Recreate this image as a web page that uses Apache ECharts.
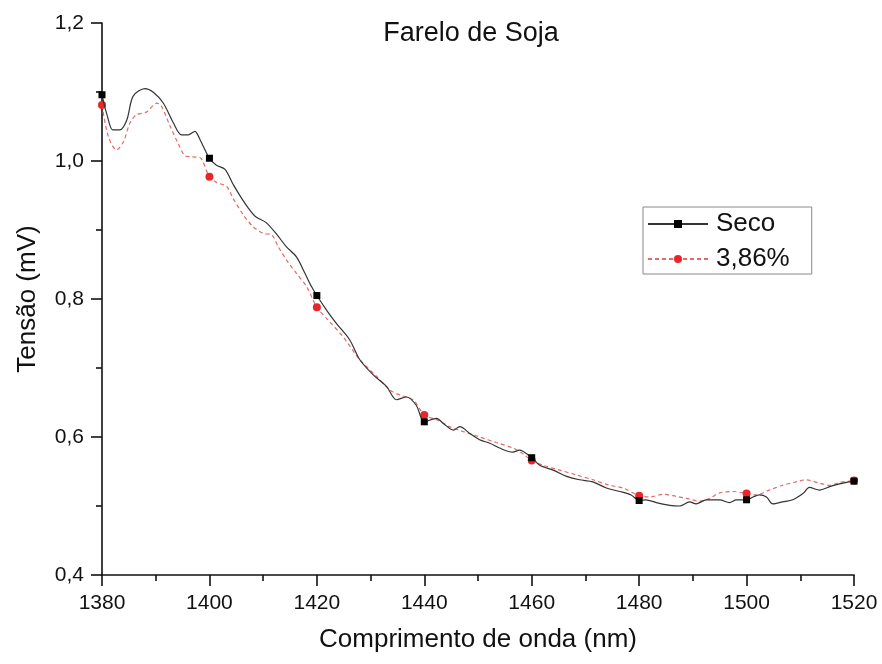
<!DOCTYPE html>
<html><head><meta charset="utf-8">
<script src="https://cdn.jsdelivr.net/npm/echarts@6/dist/echarts.min.js"></script>
<style>html,body{margin:0;padding:0;background:#fff}#c{width:882px;height:664px}</style>
</head><body><div id="c"></div>
<script>
const titleText = 'Farelo de Soja';
const xName = 'Comprimento de onda (nm)';
const yName = 'Tensão (mV)';
const seriesNames = ['Seco', '3,86%'];
const xTicks = [1380, 1400, 1420, 1440, 1460, 1480, 1500, 1520];
const yTicks = [0.4, 0.6, 0.8, 1.0, 1.2];

const secoX = [1380,1381,1382,1383.3,1384.6,1385.8,1388,1389.5,1391.4,1393.3,1394.8,1396.1,1397.3,1398.3,1400,1401.3,1402.9,1404.5,1406.5,1408.5,1410.5,1412.5,1414.3,1416.2,1417.8,1419,1420,1421.8,1423.7,1426.1,1428,1430.5,1433,1434.8,1436.7,1438.5,1440,1442.3,1443.5,1445.4,1446.6,1448.5,1450.3,1452.2,1454,1456.5,1457.7,1460,1461.5,1464,1466.5,1468.9,1471.4,1473.9,1476.4,1478.5,1480,1481.3,1483.2,1485.7,1487.5,1489.4,1490.6,1492.5,1495,1496.8,1498.1,1500,1501.2,1502.4,1503.7,1504.9,1506.7,1508.6,1510.5,1511.7,1513.6,1515.5,1517.3,1520];
const secoY = [1.096,1.065,1.045,1.045,1.059,1.094,1.105,1.100,1.084,1.055,1.038,1.038,1.043,1.030,1.004,0.994,0.988,0.965,0.940,0.920,0.911,0.894,0.876,0.861,0.837,0.818,0.805,0.784,0.764,0.741,0.712,0.690,0.673,0.654,0.658,0.646,0.622,0.627,0.620,0.610,0.615,0.605,0.596,0.591,0.584,0.578,0.581,0.570,0.559,0.552,0.543,0.538,0.535,0.526,0.521,0.516,0.508,0.509,0.505,0.501,0.500,0.506,0.503,0.509,0.509,0.505,0.509,0.509,0.513,0.516,0.513,0.503,0.506,0.509,0.518,0.527,0.523,0.528,0.532,0.536];

const umidX = [1380,1381.2,1382.7,1384,1385.2,1386.4,1388.3,1390.2,1391.1,1392.7,1394.2,1395.4,1396.6,1398.2,1400,1401.3,1403.2,1404.4,1406.3,1408.1,1410,1411.6,1412.8,1414.3,1416.2,1418.1,1420,1421.8,1424.9,1428,1431.1,1433.6,1435.4,1437.9,1440,1442.3,1444.7,1447.2,1450.3,1453.4,1456.5,1458.3,1460,1462.1,1465.2,1468.3,1471.4,1474.5,1477,1480,1482,1484.4,1486.9,1488.8,1491.3,1493.1,1495,1497.5,1500,1501.8,1504.2,1506.7,1509.2,1511.1,1513.6,1515.5,1517.3,1520];
const umidY = [1.081,1.035,1.016,1.028,1.055,1.067,1.071,1.084,1.079,1.050,1.025,1.008,1.006,1.005,0.977,0.969,0.963,0.946,0.922,0.905,0.895,0.893,0.876,0.857,0.837,0.818,0.788,0.772,0.745,0.712,0.688,0.668,0.661,0.654,0.632,0.625,0.615,0.608,0.600,0.592,0.584,0.576,0.566,0.559,0.552,0.545,0.538,0.530,0.526,0.515,0.513,0.517,0.514,0.511,0.507,0.511,0.519,0.521,0.518,0.516,0.523,0.530,0.535,0.538,0.533,0.530,0.534,0.537];

const FONT = 'Arial, "Liberation Sans", sans-serif';
const pairs = (xs, ys) => xs.map((x, i) => [x, ys[i]]);
const markSize = (s) => (v) => (xTicks.indexOf(v[0]) >= 0 ? s : 0);

const chart = echarts.init(document.getElementById('c'), null, {renderer: 'canvas'});
chart.setOption({
  animation: false,
  backgroundColor: '#fff',
  title: {
    text: titleText, left: 466, top: 15, textAlign: 'center',
    textStyle: {fontFamily: FONT, fontSize: 27, fontWeight: 'normal', color: '#111'}
  },
  grid: {left: 102, right: 28, top: 23, bottom: 89, containLabel: false},
  legend: {
    orient: 'vertical', left: 643, top: 207,
    padding: [4, 22, 2, 4], itemGap: 9,
    itemWidth: 60, itemHeight: 10,
    borderColor: '#888', borderWidth: 1,
    textStyle: {fontFamily: FONT, fontSize: 26, color: '#111', lineHeight: 26, padding: [0, 0, 0, 3]},
    data: seriesNames
  },
  xAxis: {
    type: 'value', min: xTicks[0], max: xTicks[xTicks.length - 1], interval: 20,
    name: xName, nameLocation: 'middle', nameGap: 52,
    nameTextStyle: {fontFamily: FONT, fontSize: 26, color: '#111'},
    axisLine: {show: true, lineStyle: {color: '#111', width: 1.6}},
    axisTick: {show: true, inside: false, length: 11, lineStyle: {color: '#111', width: 1.6}},
    minorTick: {show: true, splitNumber: 2, length: 6, lineStyle: {color: '#111', width: 1.6}},
    splitLine: {show: false},
    axisLabel: {fontFamily: FONT, fontSize: 21, color: '#111', margin: 18,
      formatter: (v) => String(v)}
  },
  yAxis: {
    type: 'value', min: yTicks[0], max: yTicks[yTicks.length - 1], interval: 0.2,
    name: yName, nameLocation: 'middle', nameGap: 61,
    nameTextStyle: {fontFamily: FONT, fontSize: 26, color: '#111'},
    axisLine: {show: true, lineStyle: {color: '#111', width: 1.6}},
    axisTick: {show: true, inside: false, length: 11, lineStyle: {color: '#111', width: 1.6}},
    minorTick: {show: true, splitNumber: 2, length: 6, lineStyle: {color: '#111', width: 1.6}},
    splitLine: {show: false},
    axisLabel: {fontFamily: FONT, fontSize: 21, color: '#111', margin: 18,
      formatter: (v) => v.toFixed(1).replace('.', ',')}
  },
  series: [
    {
      name: seriesNames[0], type: 'line', data: pairs(secoX, secoY),
      smooth: 0.3, symbol: 'rect', symbolSize: markSize(7), showAllSymbol: true,
      itemStyle: {color: '#000'},
      lineStyle: {color: '#333', width: 1.2}, z: 3
    },
    {
      name: seriesNames[1], type: 'line', data: pairs(umidX, umidY),
      smooth: 0.3, symbol: 'circle', symbolSize: markSize(8), showAllSymbol: true,
      itemStyle: {color: '#e8262a'},
      lineStyle: {color: '#e46a6a', width: 1.2, type: [4, 3]}, z: 2
    }
  ]
});
</script></body></html>
